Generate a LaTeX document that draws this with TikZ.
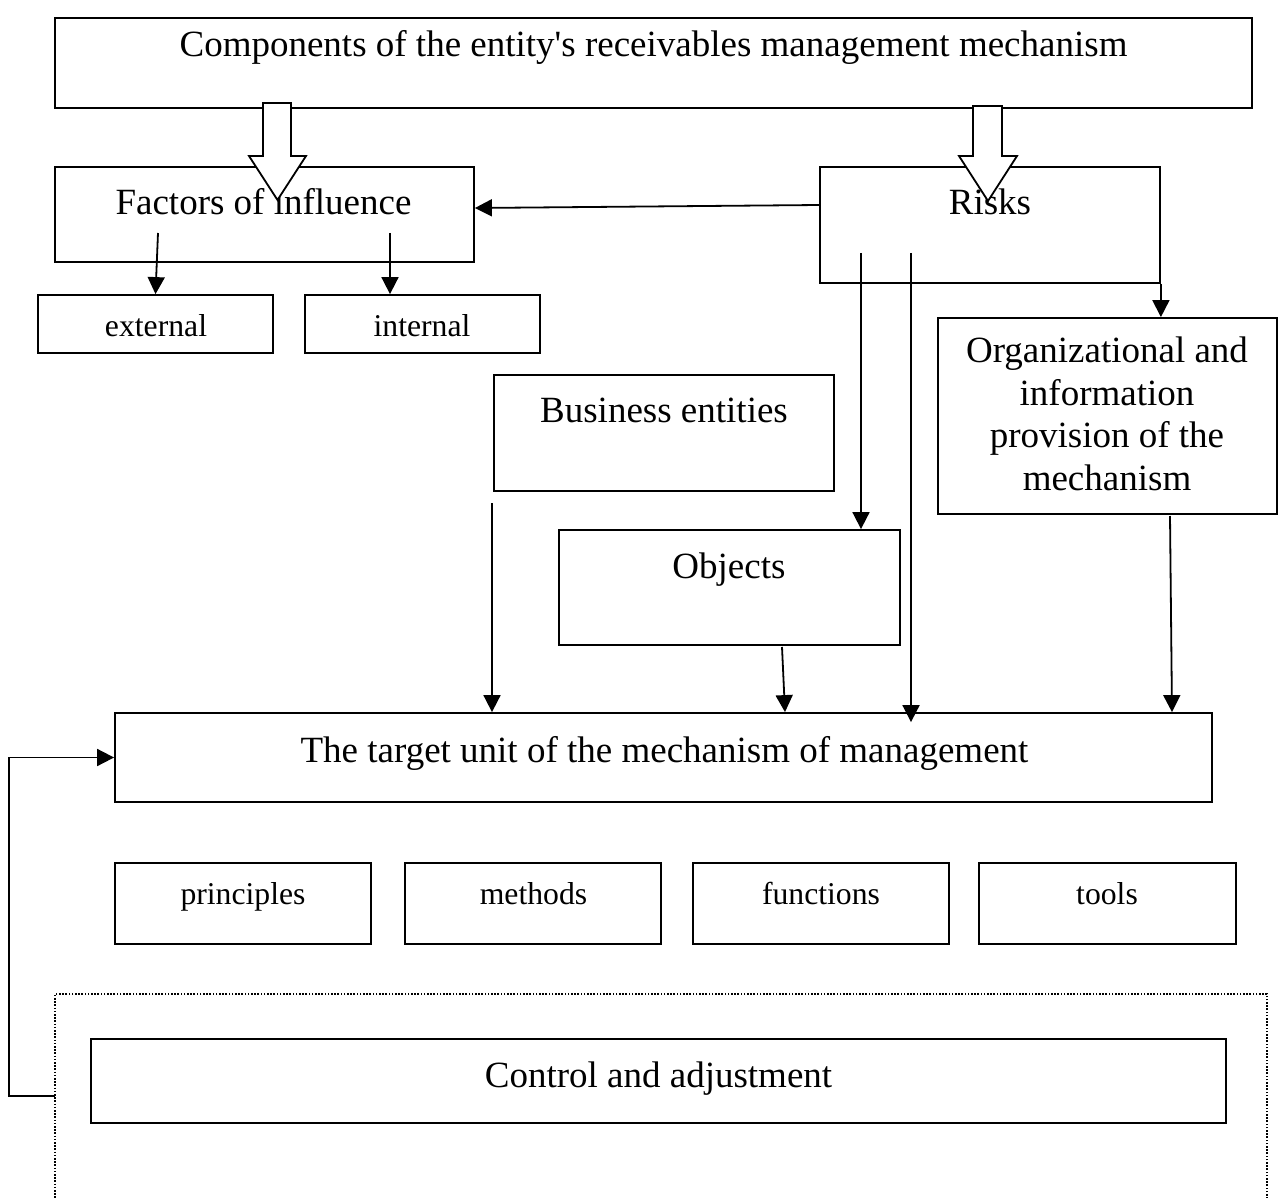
\documentclass[tikz,border=0pt]{standalone}
\usepackage{fontspec}
\setmainfont{Liberation Serif}[Ligatures=TeXOff]
\usetikzlibrary{arrows.meta,calc}

\begin{document}
\begin{tikzpicture}[x=1pt,y=-1pt,
  box/.style={draw,line width=1.8pt,rectangle,inner sep=0pt,fill=none},
  bigtext/.style={font=\fontsize{37}{42.5}\selectfont,inner sep=0pt,anchor=base},
  smalltext/.style={font=\fontsize{31.7}{36}\selectfont,inner sep=0pt,anchor=base},
  arr/.style={line width=1.8pt,-{Triangle[length=17pt,width=17pt]}},
  fatarrow/.style={draw,line width=1.8pt,fill=white,line join=miter},
  frame/.style={draw,line width=1.6pt,dash pattern=on 1.6pt off 1.6pt}]

\useasboundingbox (0,0) rectangle (1279,1198);
\clip (0,0) rectangle (1279,1198);

% boxes
\node[box,minimum width=1197pt,minimum height=90pt] (title) at (653.5,63) {};
\node[box,minimum width=419pt,minimum height=95pt] (factors) at (264.5,214.5) {};
\node[box,minimum width=340pt,minimum height=116pt] (risks) at (990,225) {};
\node[box,minimum width=235pt,minimum height=58pt] (external) at (155.5,324) {};
\node[box,minimum width=235pt,minimum height=58pt] (internal) at (422.5,324) {};
\node[box,minimum width=339pt,minimum height=196pt] (org) at (1107.5,416) {};
\node[box,minimum width=340pt,minimum height=116pt] (business) at (664,433) {};
\node[box,minimum width=341pt,minimum height=115pt] (objects) at (729.5,587.5) {};
\node[box,minimum width=1097pt,minimum height=89pt] (target) at (663.5,757.5) {};
\node[box,minimum width=256pt,minimum height=81pt] (principles) at (243,903.5) {};
\node[box,minimum width=256pt,minimum height=81pt] (methods) at (533,903.5) {};
\node[box,minimum width=256pt,minimum height=81pt] (functions) at (821,903.5) {};
\node[box,minimum width=257pt,minimum height=81pt] (tools) at (1107.5,903.5) {};
\node[frame,rectangle,inner sep=0pt,minimum width=1212pt,minimum height=260pt] (outer) at (661,1124) {};
\node[box,minimum width=1135pt,minimum height=84pt] (control) at (658.5,1081) {};

% texts
\node[bigtext] (ttitle) at (653.5,57) {Components of the entity's receivables management mechanism};
\node[bigtext] (tfactors) at (263.5,215) {Factors of influence};
\node[bigtext] (trisks) at (990,215) {Risks};
\node[smalltext] (texternal) at (156,336) {external};
\node[smalltext] (tinternal) at (422,336) {internal};
\node[bigtext,align=center] (torg) at (1107,490) {Organizational and\\information\\provision of the\\mechanism};
\node[bigtext] (tbusiness) at (664,422) {Business entities};
\node[bigtext] (tobjects) at (729,578) {Objects};
\node[bigtext] (ttarget) at (664.5,762) {The target unit of the mechanism of management};
\node[smalltext] (tprinciples) at (243,904) {principles};
\node[smalltext] (tmethods) at (533.5,904) {methods};
\node[smalltext] (tfunctions) at (821,904) {functions};
\node[smalltext] (ttools) at (1107,904) {tools};
\node[bigtext] (tcontrol) at (658.5,1087) {Control and adjustment};

% start points of connectors
\coordinate (fa) at (158,233);
\coordinate (fb) at (390,233);
\coordinate (ra) at (861,253);
\coordinate (rb) at (911,253);
\coordinate (ba) at (492,503);
\coordinate (oa) at (782,647);
\coordinate (og) at (1170,516);
\coordinate (fr) at (55,1096);

% connectors
\draw[arr] ($(risks.west)+(0,-20)$) -- ($(factors.east)+(0,-6.5)$);
\draw[arr] (fa) -- (external.north);
\draw[arr] (fb) -- (fb |- internal.north);
\draw[arr] (risks.south east) -- (risks.south east |- org.north);
\draw[arr] (ra) -- (ra |- objects.north);
\draw[arr] (rb) -- ($(rb |- target.north)+(0,10)$);
\draw[arr] (ba) -- (ba |- target.north);
\draw[arr] (oa) -- ($(oa |- target.north)+(3,0)$);
\draw[arr] (og) -- ($(og |- target.north)+(2,0)$);
\draw[arr] (fr) -- ++(-46,0) |- (target.west);

% hollow block arrows
\draw[fatarrow] (263,103) -- (291,103) -- (291,156) -- (306,156) -- (277.5,200)
  -- (249,156) -- (263,156) -- cycle;
\draw[fatarrow] (973,106) -- (1002,106) -- (1002,156) -- (1017,156) -- (988,201)
  -- (959,156) -- (973,156) -- cycle;
\end{tikzpicture}
\end{document}
